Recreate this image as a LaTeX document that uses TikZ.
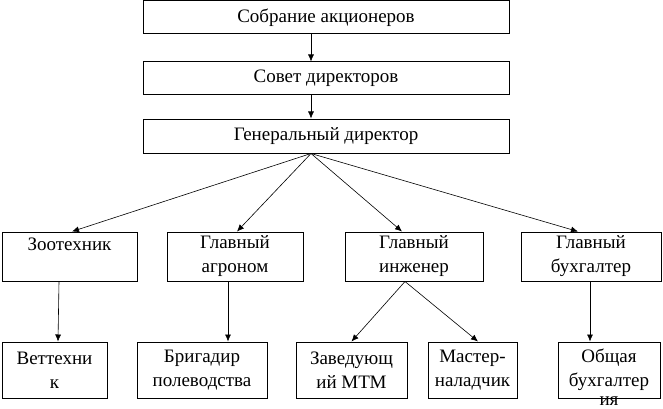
\documentclass[tikz,border=0pt]{standalone}
\usepackage{fontspec}
\setmainfont{Liberation Serif}
\usetikzlibrary{calc, arrows.meta}

\begin{document}
\begin{tikzpicture}[x=1pt, y=1pt,
    box/.style={rectangle, draw=black, line width=1pt, inner sep=0pt,
    align=center, font=\fontsize{19}{24}\selectfont},
    arr/.style={-{Latex[length=7pt, width=6pt]}, line width=0.6pt}]
    \useasboundingbox (0, 0) rectangle (663, -409);

    \node (Sobr) at (326, -17.5) [box, minimum width=366, minimum height=33] {Собрание акционеров};
    \node (Sovet) at (326, -78.5) [box, minimum width=366, minimum height=33] {Совет директоров};
    \node (Gen) at (326, -136) [box, minimum width=366, minimum height=34] {Генеральный директор};

	\node (Zoo) at (69.5, -256.5) [box, minimum width=135, minimum height=49] {Зоотехник\\ \mbox{}};
	\node (Agr) at (235, -256.5)  [box, minimum width=136, minimum height=49] {Главный\\агроном};
	\node (Inzh) at (414, -256.5) [box, minimum width=138, minimum height=49] {Главный\\инженер};
	\node (Bukh) at (591, -256.5) [box, minimum width=140, minimum height=49] {Главный\\бухгалтер};

	\node (Vet) at (54.5, -370)   [box, minimum width=105, minimum height=56] {Веттехни\\к};
	\node (Brig) at (202, -370)   [box, minimum width=130, minimum height=56] {Бригадир\\полеводства};
	\node (Zav) at (351.5, -370)  [box, minimum width=111, minimum height=56] {Заведующ\\ий МТМ};
	\node (Mast) at (472.5, -370) [box, minimum width=89, minimum height=56] {Мастер-\\наладчик};
	\node (Obsh) at (609, -370)   [box, minimum width=102, minimum height=56,
    label={[font=\fontsize{19}{24}\selectfont, inner sep=0pt, yshift=2pt]below:ия}] {Общая\\бухгалтер};

	\draw [arr] ([xshift=-15]Sobr.south) -- ([xshift=-15]Sovet.north);
	\draw [arr] ([xshift=-15]Sovet.south) -- ([xshift=-15]Gen.north);

	\draw [arr] ([xshift=-15]Gen.south) -- ([xshift=2.5]Zoo.north);
	\draw [arr] ([xshift=-15]Gen.south) -- ([xshift=2]Agr.north);
	\draw [arr] ([xshift=-15]Gen.south) -- ([xshift=-12]Inzh.north);
	\draw [arr] ([xshift=-15]Gen.south) -- ([xshift=-13]Bukh.north);

	\draw [arr] ([xshift=-10.5]Zoo.south) -- ([xshift=3.5]Vet.north);
	\draw [arr] ([xshift=-7]Agr.south) -- ([xshift=26]Brig.north);
	\draw [arr] ([xshift=-9]Inzh.south) -- (Zav.north);
	\draw [arr] ([xshift=-9]Inzh.south) -- ([xshift=5.5]Mast.north);
	\draw [arr] ([xshift=-1]Bukh.south) -- ([xshift=-19]Obsh.north);
\end{tikzpicture}
\end{document}
